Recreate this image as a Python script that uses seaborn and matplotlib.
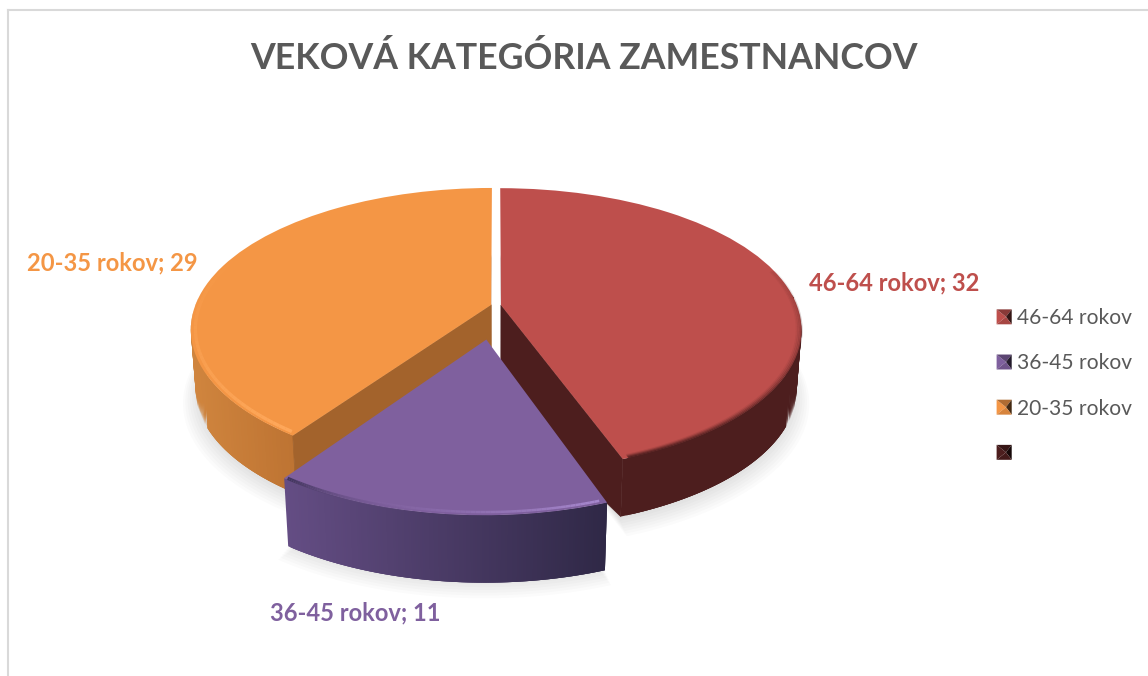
import numpy as np
import matplotlib
matplotlib.use("Agg")
import matplotlib.pyplot as plt
from matplotlib.legend_handler import HandlerBase
from matplotlib.patches import Patch, Polygon
from matplotlib.transforms import Transform
import seaborn as sns

categories = ["46-64 rokov", "36-45 rokov", "20-35 rokov", ""]
values = [32, 11, 29, 0]
title = "VEKOVÁ KATEGÓRIA ZAMESTNANCOV"

explode = [0.017, 0.24, 0.017, 0]
top_colors = ["#be4f4c", "#7f609e", "#f49645", "#4d1e1e"]
text_gray = "#595959"

sns.set_theme(style="white")
plt.rcParams["font.family"] = ["Lato", "DejaVu Sans"]

# perspective of the tilted pie, in picture pixels
CX, CY = 496, 305.5
A, B, K = 296, 137.3, 0.1732
DEPTH, SHRINK = 60, 0.016


def project(x, y, z=0.0):
    d = 1 + K * y
    s = 1 - SHRINK * z
    return CX + s * A * x / d, CY - s * B * y / d + DEPTH * z


class Tilt(Transform):
    input_dims = output_dims = 2

    def transform_non_affine(self, values):
        px, py = project(values[:, 0], values[:, 1])
        return np.column_stack([px, py])


def arc(w, t, r=1.0):
    # t in degrees, same sense as the Wedge angles
    rad = np.radians(t)
    return w.center[0] + w.r * r * np.cos(rad), w.center[1] + w.r * r * np.sin(rad)


def mix(c1, c2, f):
    return tuple((1 - f) * np.array(c1) + f * np.array(c2))


def rgb(h):
    return matplotlib.colors.to_rgb(h)


def side(ax, w, c_left, c_right, zorder, z=1.0):
    ts = np.linspace(w.theta1, w.theta2, 150)
    # the far part of the rim faces away from the viewer
    ts = ts[np.sin(np.radians(ts)) < 0.1]
    x0, x1 = project(*arc(w, ts))[0].min(), project(*arc(w, ts))[0].max()
    order = np.argsort(project(*arc(w, ts))[0])
    ts = ts[order]
    for i in range(len(ts) - 1):
        seg = ts[i:i + 4]
        tx, ty = project(*arc(w, seg))
        bx, by = project(*arc(w, seg), z)
        f = (tx[0] - x0) / (x1 - x0)
        ax.fill(np.r_[tx, bx[::-1]], np.r_[ty, by[::-1]],
                color=mix(c_left, c_right, f), lw=0, zorder=zorder)


def cut(ax, w, t, color, zorder, z_center=1.0):
    pts = [project(*w.center), project(*arc(w, t)),
           project(*arc(w, t), 1), project(*w.center, z_center)]
    ax.fill(*zip(*pts), color=color, lw=0.5, zorder=zorder)


def rim(ax, w, t_from, t_to, r, lw, c_from, c_to, a_from, a_to, zorder):
    ts = np.linspace(t_from, t_to, 50)
    for i in range(len(ts) - 1):
        f = i / (len(ts) - 2)
        px, py = project(*arc(w, ts[i:i + 2], r))
        ax.plot(px, py, color=mix(c_from, c_to, f), lw=lw,
                alpha=a_from + (a_to - a_from) * f, zorder=zorder,
                solid_capstyle="butt")


def shadow(ax, w, z_top):
    ts = np.linspace(w.theta1, w.theta2, 60)
    for grow, extra in zip(np.linspace(1.045, 0.99, 8), np.linspace(z_top, z_top - 0.14, 8)):
        xs, ys = arc(w, ts, grow)
        xs = np.r_[w.center[0], xs]
        ys = np.r_[w.center[1], ys]
        px, py = project(xs, ys, extra)
        ax.fill(px, py, color="black", alpha=0.016, lw=0, zorder=1)


class PyramidHandler(HandlerBase):
    def create_artists(self, legend, orig_handle, xdescent, ydescent,
                       width, height, fontsize, trans):
        base = np.array(orig_handle.get_facecolor()[:3])
        x0, y0 = -xdescent, -ydescent
        x1, y1 = x0 + width, y0 + height
        mx, my = (x0 + x1) / 2 + width * 0.12, (y0 + y1) / 2
        faces = [([(x0, y0), (x0, y1), (mx, my)], 1.0),
                 ([(x0, y1), (x1, y1), (mx, my)], 0.72),
                 ([(x1, y1), (x1, y0), (mx, my)], 0.28),
                 ([(x1, y0), (x0, y0), (mx, my)], 0.88)]
        return [Polygon(p, closed=True, facecolor=base * s, edgecolor="none",
                        transform=trans) for p, s in faces]


fig = plt.figure(figsize=(11.48, 6.76), dpi=100, facecolor="white")
ax = fig.add_axes([8 / 1148, 0, 1140 / 1148, 666 / 676])

wedges, _ = ax.pie(values, colors=top_colors, explode=explode, startangle=90,
                   counterclock=False, radius=1)
red, purple, orange = wedges[0], wedges[1], wedges[2]
purple.set_radius(0.97)

tilt = Tilt() + ax.transData
for w in wedges:
    w.set_transform(tilt)
    w.set_linewidth(0)
wedges[3].set_visible(False)

shadow(ax, orange, 1.2)
shadow(ax, red, 1.2)
shadow(ax, purple, 1.3)

side(ax, orange, rgb("#d0853e"), rgb("#bd7332"), 2)
cut(ax, orange, orange.theta2, "#a3632c", 2.1)
side(ax, red, rgb("#4d1e1e"), rgb("#4d1e1e"), 2)
cut(ax, red, red.theta1, "#4d1e1e", 2.1, z_center=1.6)
orange.set_zorder(3)
red.set_zorder(3)
side(ax, purple, rgb("#644d84"), rgb("#2f2846"), 4, z=1.19)
purple.set_zorder(5)

# soft bevel along the front edges
dark = rgb("#4d1e1e")
for r, a in zip([0.985, 0.99, 0.995, 1.0], [0.12, 0.3, 0.55, 0.8]):
    rim(ax, red, red.theta1 + 1, red.theta1 + 85, r, 1.6, dark, dark, a, 0.05, 3.5)
rim(ax, orange, orange.theta2 - 1, orange.theta2 - 75, 0.985, 2.4,
    rgb("#ffa95c"), rgb("#f9a050"), 0.95, 0.1, 3.5)
rim(ax, purple, purple.theta2 - 1, purple.theta1 + 14, 0.985, 1.8,
    rgb("#a98ad0"), rgb("#7f609e"), 0.95, 0.5, 5.5)
rim(ax, purple, purple.theta1 + 22, purple.theta1 + 0.5, 0.995, 2.4,
    rgb("#7f609e"), rgb("#3a3056"), 0.2, 0.9, 5.5)

ax.set_frame_on(True)
ax.set_xlim(8, 1148)
ax.set_ylim(676, 10)
ax.set_aspect("auto")
ax.set_xticks([])
ax.set_yticks([])
for name in ["right", "bottom"]:
    ax.spines[name].set_visible(False)
for name in ["left", "top"]:
    ax.spines[name].set_color("#d9d9d9")
    ax.spines[name].set_linewidth(1.5)

ax.text(583.5, 58, title, ha="center", va="center", fontsize=25.7,
        fontweight="bold", color=text_gray)

label_pos = [(809, 283), (270, 613), (27, 263)]
for (x, y), cat, val, col in zip(label_pos, categories, values, top_colors):
    ax.text(x, y, f"{cat}; {val}", ha="left", va="center", fontsize=17.1,
            fontweight="bold", color=col)

handles = [Patch(facecolor=c) for c in top_colors]
ax.legend(handles, categories, loc="upper left", bbox_to_anchor=(0.8672, 0.5523),
          frameon=False, fontsize=15.1, labelcolor=text_gray, handlelength=0.72,
          handleheight=0.72, handletextpad=0.25, labelspacing=1.2,
          borderpad=0, borderaxespad=0,
          handler_map={Patch: PyramidHandler()})

fig.savefig("out.png", dpi=100)
